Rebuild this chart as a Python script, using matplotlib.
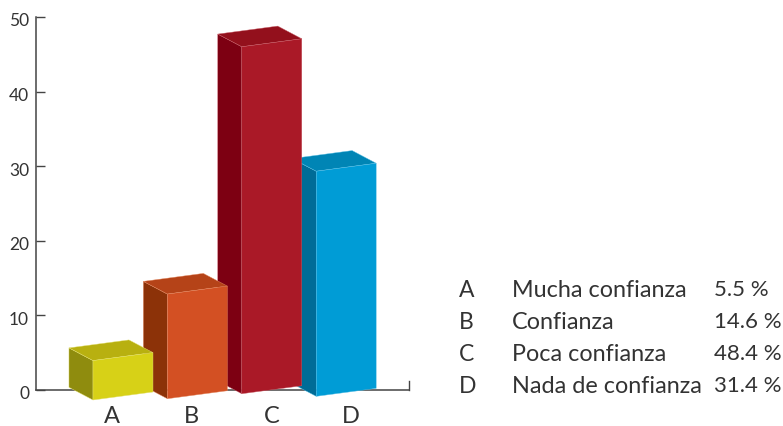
import matplotlib
matplotlib.use("Agg")
import matplotlib.pyplot as plt
from matplotlib.patches import Polygon
from matplotlib.transforms import ScaledTranslation

plt.rcParams["font.family"] = ["Lato", "DejaVu Sans"]

categories = ["A", "B", "C", "D"]
labels = ["Mucha confianza", "Confianza", "Poca confianza", "Nada de confianza"]
percents = [5.5, 14.6, 48.4, 31.4]
y_ticks = [0, 10, 20, 30, 40, 50]

W, H = 783, 427
INK = "#333333"
AXIS = "#444444"

front = ["#D7D117", "#D35023", "#AA1927", "#009CD6"]
top = ["#B8B010", "#B54318", "#93101C", "#0085B5"]
side = ["#8F8C0E", "#8C3208", "#7D0012", "#006C97"]
edge = ["#E4E070", "#E58A62", "#C9606A", "#5CC0E6"]

# fake 3d geometry, x unit = one bar step, y unit = axis unit
base = [-1.34, -1.17, -0.50, -0.85]
bar_w = 0.806
rise = 1.07
dx, dy = -0.323, 1.70
squash = 0.961

fig = plt.figure(figsize=(W / 100, H / 100), dpi=100)
ax = fig.add_axes([36 / W, 1 - 391 / H, 373 / W, 373 / H])
ax.set_xlim(-0.766, 4.247)
ax.set_ylim(0, 50)
for s in ["top", "right"]:
    ax.spines[s].set_visible(False)
for s in ["left", "bottom"]:
    ax.spines[s].set_color(AXIS)
    ax.spines[s].set_linewidth(1.1)

# back to front so each bar covers the side of the next one
for i in reversed(range(len(percents))):
    x0, x1 = i, i + bar_w
    y0 = base[i]
    h = percents[i] * squash
    faces = [
        ([(x0, y0), (x0, y0 + h), (x0 + dx, y0 + h + dy), (x0 + dx, y0 + dy)], side[i]),
        ([(x0, y0 + h), (x1, y0 + h + rise), (x1 + dx, y0 + h + rise + dy), (x0 + dx, y0 + h + dy)], top[i]),
        ([(x0, y0), (x1, y0 + rise), (x1, y0 + h + rise), (x0, y0 + h)], front[i]),
    ]
    for pts, col in faces:
        ax.add_patch(Polygon(pts, closed=True, facecolor=col, edgecolor=edge[i],
                             lw=0.3, clip_on=False, zorder=3 + (3 - i)))

ax.set_yticks(y_ticks)
ax.tick_params(axis="y", direction="in", length=6.5, width=1.0, color=AXIS, pad=5,
               labelsize=12.5, labelcolor=INK)
shift = ScaledTranslation(0, -2 / 100, fig.dpi_scale_trans)
for lab in ax.get_yticklabels():
    lab.set_transform(lab.get_transform() + shift)
ax.set_xticks([0.255 + 1.071 * i for i in range(4)], categories)
ax.tick_params(axis="x", length=0, pad=11, labelsize=17, labelcolor=INK)
# closing tick at the right end of the base line
ax.plot([1, 1], [0, 0.024], color=AXIS, lw=1.0, transform=ax.transAxes, clip_on=False)

# key on the right
rows = [290.5, 322.5, 354.5, 386.5]
for c, name, p, y in zip(categories, labels, percents, rows):
    fig.text(459 / W, 1 - y / H, c, fontsize=16.5, color=INK, va="center")
    fig.text(512 / W, 1 - y / H, name, fontsize=16.8, color=INK, va="center")
    fig.text(714 / W, 1 - y / H, f"{p} %", fontsize=16, color=INK, va="center")

fig.savefig("out.png", dpi=100)
